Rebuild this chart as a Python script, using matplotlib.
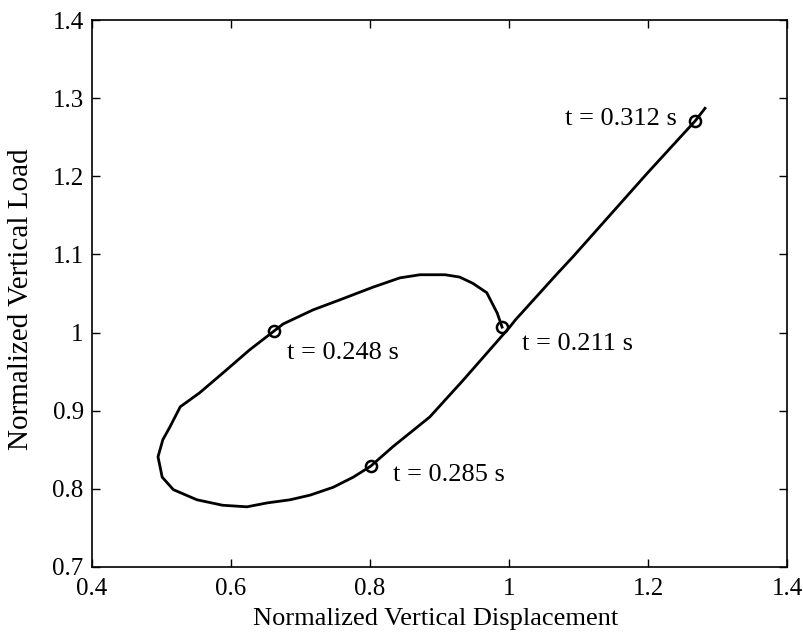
import matplotlib
matplotlib.use("Agg")
import matplotlib.pyplot as plt

plt.rcParams['font.family'] = ['Liberation Serif', 'DejaVu Serif']

# Trajectory (normalized displacement, normalized load), in time order
disp = [0.990, 0.983, 0.968, 0.948, 0.929, 0.908, 0.872, 0.843, 0.804, 0.757,
        0.718, 0.675, 0.662, 0.627, 0.588, 0.555, 0.527, 0.512, 0.502, 0.495,
        0.501, 0.517, 0.551, 0.588, 0.623, 0.652, 0.685, 0.714, 0.747, 0.776,
        0.801, 0.833, 0.886, 0.934, 1.001, 1.009, 1.069, 1.092, 1.199, 1.268,
        1.282]
load = [1.007, 1.025, 1.051, 1.063, 1.071, 1.074, 1.074, 1.070, 1.058, 1.042,
        1.029, 1.011, 1.002, 0.978, 0.948, 0.923, 0.905, 0.879, 0.863, 0.841,
        0.815, 0.799, 0.786, 0.779, 0.777, 0.782, 0.786, 0.792, 0.802, 0.815,
        0.829, 0.854, 0.892, 0.939, 1.007, 1.016, 1.075, 1.097, 1.204, 1.271,
        1.287]

# Marked instants
mark_t = ["0.211", "0.248", "0.285", "0.312"]
mark_x = [0.990, 0.662, 0.801, 1.268]
mark_y = [1.007, 1.002, 0.829, 1.271]

xticks = [0.4, 0.6, 0.8, 1.0, 1.2, 1.4]
xtick_labels = ["0.4", "0.6", "0.8", "1", "1.2", "1.4"]
yticks = [0.7, 0.8, 0.9, 1.0, 1.1, 1.2, 1.3, 1.4]
ytick_labels = ["0.7", "0.8", "0.9", "1", "1.1", "1.2", "1.3", "1.4"]

fig = plt.figure(figsize=(8.04, 6.39), dpi=100)
ax = fig.add_axes([0.1144, 0.1127, 0.8645, 0.856])

ax.plot(disp, load, color='black', linewidth=2.0, solid_joinstyle='round')
ax.plot(mark_x, mark_y, linestyle='none', marker='o', markersize=8,
        markerfacecolor='none', markeredgecolor='black', markeredgewidth=1.8)

# label offsets (pixels) and alignment
offs = [(20, -17, 'left'), (13, -22, 'left'), (22, -9, 'left'), (-18, 2, 'right')]
for t, x, y, (dx, dy, ha) in zip(mark_t, mark_x, mark_y, offs):
    ax.annotate(f"t = {t} s", xy=(x, y), xytext=(dx, dy),
                textcoords='offset pixels', fontsize=19, ha=ha, va='center')

ax.set_xlim(0.4, 1.4)
ax.set_ylim(0.7, 1.4)
ax.set_xticks(xticks)
ax.set_xticklabels(xtick_labels)
ax.set_yticks(yticks)
ax.set_yticklabels(ytick_labels)
ax.tick_params(direction='in', length=6, width=1, top=True, right=True,
               labelsize=18, pad=6)
ax.tick_params(axis='x', pad=8)
for s in ax.spines.values():
    s.set_linewidth(1.2)

ax.set_xlabel("Normalized Vertical Displacement", fontsize=19, labelpad=4)
ax.xaxis.set_label_coords(0.495, -0.075)
ax.set_ylabel("Normalized Vertical Load", fontsize=21)
ax.yaxis.set_label_coords(-0.083, 0.49)

fig.savefig("out.png", dpi=100)
